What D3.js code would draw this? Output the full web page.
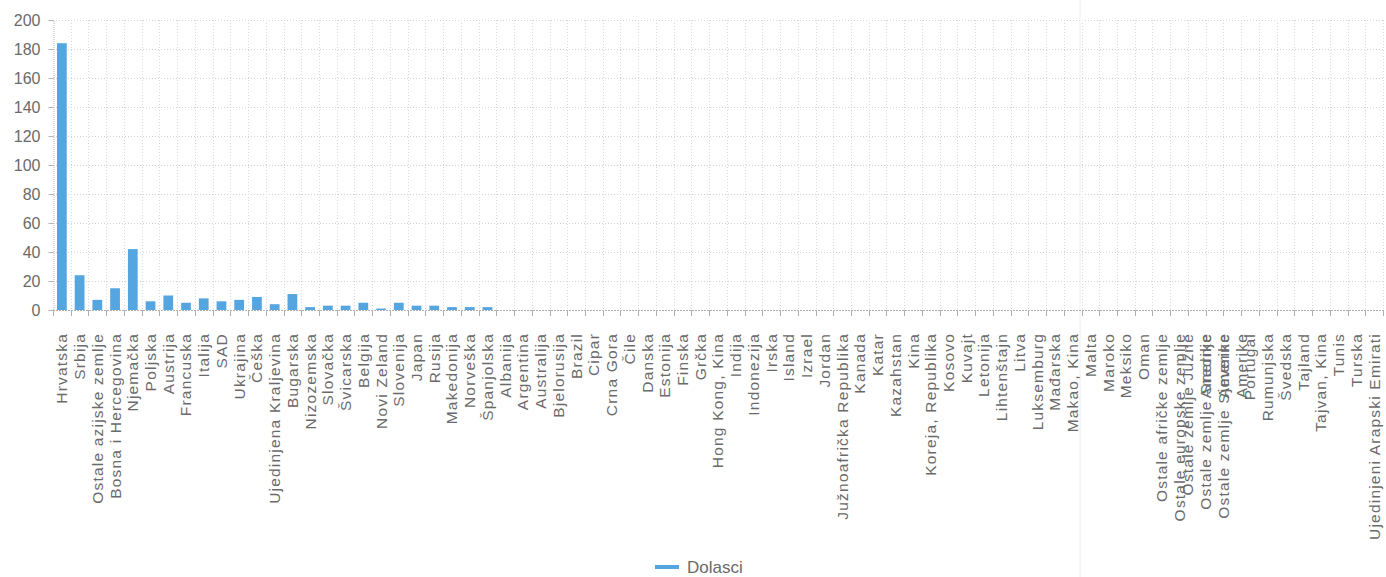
<!DOCTYPE html>
<html><head><meta charset="utf-8">
<script src="https://cdn.jsdelivr.net/npm/d3@7"></script>
<style>
body{margin:0;background:#fff;}
text{font-family:"Liberation Sans",Arial,sans-serif;fill:#6a6a6a;}
</style>
</head><body>
<svg id="chart" width="1386" height="577"></svg>
<script>
const categories = [
  "Hrvatska","Srbija","Ostale azijske zemlje","Bosna i Hercegovina","Njemačka","Poljska","Austrija",
  "Francuska","Italija","SAD","Ukrajina","Češka","Ujedinjena Kraljevina","Bugarska","Nizozemska",
  "Slovačka","Švicarska","Belgija","Novi Zeland","Slovenija","Japan","Rusija","Makedonija","Norveška",
  "Španjolska","Albanija","Argentina","Australija","Bjelorusija","Brazil","Cipar","Crna Gora","Čile",
  "Danska","Estonija","Finska","Grčka","Hong Kong, Kina","Indija","Indonezija","Irska","Island","Izrael",
  "Jordan","Južnoafrička Republika","Kanada","Katar","Kazahstan","Kina","Koreja, Republika","Kosovo",
  "Kuvajt","Letonija","Lihtenštajn","Litva","Luksemburg","Mađarska","Makao, Kina","Malta","Maroko",
  "Meksiko","Oman","Ostale afričke zemlje","Ostale europske zemlje","Ostale zemlje Južne\nAmerike",
  "Ostale zemlje Srednje\nAmerike","Ostale zemlje Sjeverne\nAmerike","Portugal","Rumunjska","Švedska",
  "Tajland","Tajvan, Kina","Tunis","Turska","Ujedinjeni Arapski Emirati"
];
const dolasci = [
  184,24,7,15,42,6,10,
  5,8,6,7,9,4,11,2,
  3,3,5,1,5,3,3,2,2,
  2,0,0,0,0,0,0,0,0,
  0,0,0,0,0,0,0,0,0,0,
  0,0,0,0,0,0,0,0,
  0,0,0,0,0,0,0,0,0,
  0,0,0,0,0,
  0,0,0,0,0,
  0,0,0,0,0
];
const yTicks = [0,20,40,60,80,100,120,140,160,180,200];
const seriesName = "Dolasci";

const svg = d3.select("#chart");
const pLeft = 53, pRight = 1383, pTop = 20, pBottom = 310;
const barColor = "#55a6e0";

const x = d3.scaleBand().domain(categories.map((d,i)=>i)).range([pLeft,pRight]).padding(0);
const y = d3.scaleLinear().domain([0,200]).range([pBottom,pTop]);
const step = x.step();

// faint scan fold line
svg.append("line").attr("x1",1080).attr("x2",1080).attr("y1",0).attr("y2",577)
  .attr("stroke","#eeeeee").attr("stroke-width",1);

// horizontal grid
svg.append("g").selectAll("line").data(yTicks.filter(t=>t>0)).join("line")
  .attr("x1",pLeft).attr("x2",pRight)
  .attr("y1",d=>y(d)+0.5).attr("y2",d=>y(d)+0.5)
  .attr("stroke","#d2d2d2").attr("stroke-dasharray","1,2");

// vertical grid at category boundaries
const bounds = categories.map((d,i)=>x(i)).concat([pRight]);
svg.append("g").selectAll("line").data(bounds.slice(1)).join("line")
  .attr("x1",d=>Math.round(d)+0.5).attr("x2",d=>Math.round(d)+0.5)
  .attr("y1",pTop).attr("y2",pBottom)
  .attr("stroke","#d8d8d8").attr("stroke-dasharray","1,2");

// y axis
const yAxis = d3.axisLeft(y).tickValues(yTicks).tickSize(5).tickPadding(8);
const gy = svg.append("g").attr("transform",`translate(${pLeft+0.5},0)`).call(yAxis);
gy.select(".domain").attr("stroke","#b5b5b5").attr("stroke-dasharray","1,1");
gy.selectAll(".tick line").attr("stroke","#b5b5b5");
gy.selectAll(".tick text").style("font-size","16px").style("font-family","Liberation Sans, Arial, sans-serif").attr("fill","#6a6a6a");

// x axis line and ticks at boundaries
svg.append("line").attr("x1",pLeft).attr("x2",pRight).attr("y1",pBottom+0.5).attr("y2",pBottom+0.5)
  .attr("stroke","#b0b0b0").attr("stroke-dasharray","2,1");
svg.append("g").selectAll("line").data(bounds).join("line")
  .attr("x1",d=>Math.round(d)+0.5).attr("x2",d=>Math.round(d)+0.5)
  .attr("y1",pBottom).attr("y2",pBottom+6)
  .attr("stroke","#b0b0b0");

// bars
const bw = step*0.55;
svg.append("g").selectAll("rect").data(dolasci).join("rect")
  .attr("x",(d,i)=>x(i)+step/2-bw/2)
  .attr("y",d=>y(d))
  .attr("width",bw)
  .attr("height",d=>pBottom-y(d))
  .attr("fill",barColor);

// x labels (rotated)
const lab = svg.append("g");
categories.forEach((c,i)=>{
  const lines = c.split("\n");
  const cx = x(i)+step/2;
  lines.forEach((ln,j)=>{
    const off = (j-(lines.length-1)/2)*18;
    lab.append("text")
      .attr("transform",`translate(${cx+off},333) rotate(-90)`)
      .attr("text-anchor","end")
      .attr("dy","0.35em")
      .style("font-size","15.5px")
      .style("letter-spacing","1.2px")
      .text(ln);
  });
});

// legend
svg.append("line").attr("x1",655).attr("x2",679).attr("y1",567).attr("y2",567)
  .attr("stroke",barColor).attr("stroke-width",4);
svg.append("text").attr("x",687).attr("y",573).style("font-size","17px").text(seriesName);
</script>
</body></html>
